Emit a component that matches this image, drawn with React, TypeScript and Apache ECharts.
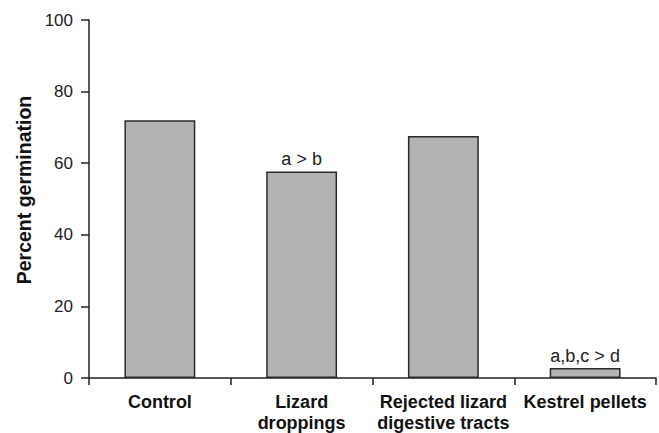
import React, { useEffect, useRef } from "react";
import * as echarts from "echarts";

const categories = ["Control", "Lizard\ndroppings", "Rejected lizard\ndigestive tracts", "Kestrel pellets"];
const values = [72, 57.7, 67.6, 2.8];
const annotations = ["", "a > b", "", "a,b,c > d"];
const yTicks = { min: 0, max: 100, interval: 20 };

const FONT = "Liberation Sans, Arial, sans-serif";

export default function App() {
  const ref = useRef<HTMLDivElement>(null);
  useEffect(() => {
    if (!ref.current) return;
    const chart = echarts.init(ref.current, null, { renderer: "svg" });
    chart.setOption({
      animation: false,
      backgroundColor: "#ffffff",
      grid: { left: 89, right: 3, top: 20, bottom: 54 },
      xAxis: {
        type: "category",
        data: categories,
        axisLine: { lineStyle: { color: "#222", width: 1.5 } },
        axisTick: { show: true, length: 7, lineStyle: { color: "#222", width: 1.5 } },
        axisLabel: {
          color: "#111",
          fontWeight: "bold",
          fontSize: 18,
          fontFamily: FONT,
          lineHeight: 21,
          margin: 13,
          interval: 0,
        },
      },
      yAxis: {
        type: "value",
        min: yTicks.min,
        max: yTicks.max,
        interval: yTicks.interval,
        name: "Percent germination",
        nameLocation: "middle",
        nameGap: 55,
        nameTextStyle: {
          color: "#111",
          fontWeight: "bold",
          fontSize: 19.5,
          fontFamily: FONT,
          padding: [0, 0, 0, 18],
        },
        splitLine: { show: false },
        axisLine: { show: true, lineStyle: { color: "#222", width: 1.5 } },
        axisTick: { show: true, length: 8, lineStyle: { color: "#222", width: 1.5 } },
        axisLabel: {
          color: "#222",
          fontSize: 17,
          margin: 16,
          fontFamily: FONT,
        },
      },
      series: [
        {
          type: "bar",
          barWidth: "50%",
          data: values.map((v, i) => ({
            value: v,
            label: {
              show: annotations[i] !== "",
              position: "top",
              distance: 3,
              formatter: annotations[i],
              color: "#222",
              fontSize: 18,
              fontFamily: FONT,
            },
          })),
          itemStyle: { color: "#b3b3b3", borderColor: "#2a2a2a", borderWidth: 1.5 },
        },
      ],
    });
    return () => chart.dispose();
  }, []);
  return <div ref={ref} style={{ width: 659, height: 433, position: "absolute", left: 0, top: 0 }} />;
}
